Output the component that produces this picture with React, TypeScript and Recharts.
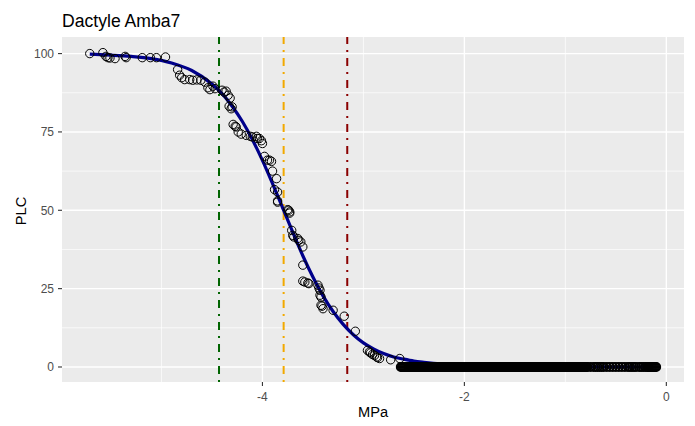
import React from "react";
import {
  ComposedChart,
  Scatter,
  Line,
  XAxis,
  YAxis,
  CartesianGrid,
  ReferenceLine,
} from "recharts";

// Observed PLC points on the transition (MPa, PLC)
const obsX = [
  -5.71, -5.58, -5.55, -5.53, -5.51, -5.46, -5.36, -5.35, -5.19, -5.11, -5.05, -4.96,
  -4.84, -4.82, -4.8, -4.77, -4.72, -4.69, -4.65, -4.61, -4.57, -4.54, -4.52, -4.49,
  -4.47, -4.4, -4.38, -4.36, -4.34, -4.32, -4.33, -4.31, -4.3,
  -4.29, -4.27, -4.26, -4.24, -4.21, -4.16, -4.12, -4.1, -4.06, -4.05, -4.03, -4.01, -4.0,
  -3.98, -3.95, -3.93, -3.91, -3.9, -3.86, -3.88, -3.85, -3.85, -3.85,
  -3.75, -3.74, -3.73, -3.73,
  -3.71, -3.7, -3.69, -3.65, -3.64, -3.62, -3.6,
  -3.6, -3.6, -3.58, -3.55, -3.54, -3.45, -3.44, -3.43, -3.43, -3.42, -3.42, -3.41, -3.4,
  -3.3, -3.19, -3.08,
  -2.96, -2.94, -2.93, -2.91, -2.89, -2.87, -2.86, -2.84, -2.73, -2.64,
];
const obsY = [
  100.0, 100.3, 99.1, 98.7, 98.6, 98.4, 99.1, 98.7, 98.7, 98.7, 98.7, 98.9,
  94.9, 93.1, 92.3, 91.7, 91.7, 91.5, 91.6, 91.5, 90.9, 89.1, 88.5, 89.6,
  88.8, 88.3, 87.7, 88.0, 86.7, 85.8, 83.2, 82.4, 83.0,
  77.4, 76.8, 76.6, 75.0, 74.3, 73.9, 73.6, 73.4, 73.6, 72.9, 72.9, 72.2, 71.3,
  67.2, 66.0, 66.0, 65.6, 62.5, 60.1, 56.6, 55.8, 53.0, 52.6,
  50.2, 50.0, 49.5, 49.1,
  43.6, 42.0, 41.5, 41.0, 40.4, 39.9, 38.3,
  32.5, 27.4, 27.1, 26.8, 26.6, 26.1, 25.2, 24.5, 22.9, 22.3, 19.7, 19.4, 18.6,
  18.1, 16.2, 11.4,
  5.3, 4.8, 4.5, 4.0, 3.7, 3.2, 3.0, 2.7, 2.3, 2.7,
];

// Points at PLC = 0 (dense band)
const zeroX = [
  -2.63, -2.62, -2.61, -2.6, -2.59, -2.58, -2.57, -2.56, -2.55, -2.54,
  -2.53, -2.52, -2.51, -2.5, -2.49, -2.48, -2.47, -2.46, -2.45, -2.44,
  -2.43, -2.42, -2.41, -2.4, -2.39, -2.38, -2.37, -2.36, -2.35, -2.34,
  -2.33, -2.32, -2.31, -2.3, -2.29, -2.28, -2.27, -2.26, -2.25, -2.24,
  -2.23, -2.22, -2.21, -2.2, -2.19, -2.18, -2.17, -2.16, -2.15, -2.14,
  -2.13, -2.12, -2.11, -2.1, -2.09, -2.08, -2.07, -2.06, -2.05, -2.04,
  -2.03, -2.02, -2.01, -2.0, -1.99, -1.98, -1.97, -1.96, -1.95, -1.94,
  -1.93, -1.92, -1.91, -1.9, -1.89, -1.88, -1.87, -1.86, -1.85, -1.84,
  -1.83, -1.82, -1.81, -1.8, -1.79, -1.78, -1.77, -1.76, -1.75, -1.74,
  -1.73, -1.72, -1.71, -1.7, -1.69, -1.68, -1.67, -1.66, -1.65, -1.64,
  -1.63, -1.62, -1.61, -1.6, -1.59, -1.58, -1.57, -1.56, -1.55, -1.54,
  -1.53, -1.52, -1.51, -1.5, -1.49, -1.48, -1.47, -1.46, -1.45, -1.44,
  -1.43, -1.42, -1.41, -1.4, -1.39, -1.38, -1.37, -1.36, -1.35, -1.34,
  -1.33, -1.32, -1.31, -1.3, -1.29, -1.28, -1.27, -1.26, -1.25, -1.24,
  -1.23, -1.22, -1.21, -1.2, -1.19, -1.18, -1.17, -1.16, -1.15, -1.14,
  -1.13, -1.12, -1.11, -1.1, -1.09, -1.08, -1.07, -1.06, -1.05, -1.04,
  -1.03, -1.02, -1.01, -1.0, -0.99, -0.98, -0.97, -0.96, -0.95, -0.94,
  -0.93, -0.92, -0.91, -0.9, -0.89, -0.88, -0.87, -0.86, -0.85, -0.84,
  -0.83, -0.82, -0.81, -0.8, -0.79, -0.78, -0.75, -0.72, -0.7, -0.68,
  -0.66, -0.64, -0.62, -0.59, -0.56, -0.53, -0.5, -0.47, -0.44, -0.41,
  -0.38, -0.36, -0.34, -0.32, -0.3, -0.27, -0.25, -0.23, -0.21, -0.19,
  -0.18, -0.17, -0.16, -0.15, -0.14, -0.13, -0.12, -0.11, -0.1,
];

// Fitted curve
const curveX = [
  -5.71, -5.5, -5.3, -5.1, -4.9, -4.7, -4.5, -4.4, -4.3, -4.2, -4.1, -4.0,
  -3.9, -3.8, -3.7, -3.6, -3.5, -3.4, -3.3, -3.2, -3.1, -3.0, -2.9, -2.8,
  -2.7, -2.6, -2.5, -2.4, -2.2, -2.0, -1.5, -1.0, -0.1,
];
const curveY = [
  99.8, 99.5, 99.1, 98.4, 97.0, 94.6, 90.3, 87.2, 83.2, 78.4, 72.6, 65.9,
  58.5, 50.8, 43.0, 35.5, 28.7, 22.7, 17.7, 13.6, 10.3, 7.7, 5.8, 4.3,
  3.2, 2.5, 1.9, 1.5, 0.9, 0.5, 0.15, 0.05, 0.0,
];

// P12, P50, P88 (MPa)
const pLines = [-4.43, -3.79, -3.16];
const pColors = ["#006400", "#F2A900", "#8B0000"];

const xTicks = [-4, -2, 0];
const xMinor = [-5, -3, -1];
const yTicks = [0, 25, 50, 75, 100];
const yMinor = [12.5, 37.5, 62.5, 87.5];

const titleText = "Dactyle Amba7";
const xTitle = "MPa";
const yTitle = "PLC";

const obsData = obsX.map((x, i) => ({ x, y: obsY[i] }));
const zeroData = zeroX.map((x) => ({ x, y: 0 }));
const curveData = curveX.map((x, i) => ({ x, y: curveY[i] }));

const Ring = (p: any) => (
  <circle cx={p.cx} cy={p.cy} r={4.2} fill="none" stroke="#000" strokeWidth={1} />
);
const BandRing = (p: any) => (
  <circle cx={p.cx} cy={p.cy} r={4.1} fill="none" stroke="#000" strokeWidth={1.7} />
);

const FONT = "'Liberation Sans', Arial, sans-serif";

export default function App() {
  return (
    <div
      style={{
        position: "absolute",
        left: 0,
        top: 0,
        width: 695,
        height: 426,
        background: "#fff",
        fontFamily: FONT,
      }}
    >
      <ComposedChart
        width={695}
        height={426}
        margin={{ top: 37, right: 11, left: 0, bottom: 0 }}
      >
        <CartesianGrid
          fill="#EBEBEB"
          stroke="#FFFFFF"
          strokeWidth={0.7}
          verticalValues={xMinor}
          horizontalValues={yMinor}
        />
        <CartesianGrid
          fill="none"
          stroke="#FFFFFF"
          strokeWidth={1.4}
          verticalValues={xTicks}
          horizontalValues={yTicks}
        />
        <XAxis
          type="number"
          dataKey="x"
          domain={[-5.985, 0.175]}
          ticks={xTicks}
          interval={0}
          allowDataOverflow
          height={44}
          axisLine={false}
          tickSize={4}
          tickMargin={6}
          tickLine={{ stroke: "#333333", strokeWidth: 1.1 }}
          tick={{ fill: "#4D4D4D", fontSize: 12, fontFamily: FONT }}
        />
        <YAxis
          type="number"
          dataKey="y"
          domain={[-4.79, 105.29]}
          ticks={yTicks}
          interval={0}
          allowDataOverflow
          width={62}
          axisLine={false}
          tickSize={4}
          tickMargin={4}
          tickLine={{ stroke: "#333333", strokeWidth: 1.1 }}
          tick={{ fill: "#4D4D4D", fontSize: 12, fontFamily: FONT }}
        />
        {pLines.map((v, i) => (
          <ReferenceLine
            key={i}
            x={v}
            stroke={pColors[i]}
            strokeWidth={2}
            strokeDasharray="2 6 8 6"
          />
        ))}
        <Line
          data={curveData}
          dataKey="y"
          type="monotone"
          stroke="#00008B"
          strokeWidth={3.2}
          dot={false}
          activeDot={false}
          isAnimationActive={false}
        />
        <Scatter data={obsData} dataKey="y" shape={Ring} isAnimationActive={false} />
        <Scatter data={zeroData} dataKey="y" shape={BandRing} isAnimationActive={false} />
      </ComposedChart>
      <div
        style={{
          position: "absolute",
          left: 62,
          top: 13,
          fontSize: 17.6,
          lineHeight: "17.6px",
          color: "#000",
          whiteSpace: "nowrap",
        }}
      >
        {titleText}
      </div>
      <div
        style={{
          position: "absolute",
          left: 373,
          top: 412,
          transform: "translate(-50%, -50%)",
          fontSize: 14.67,
          lineHeight: "14.67px",
          color: "#000",
          whiteSpace: "nowrap",
        }}
      >
        {xTitle}
      </div>
      <div
        style={{
          position: "absolute",
          left: 21,
          top: 211,
          transform: "translate(-50%, -50%) rotate(-90deg)",
          fontSize: 14.67,
          lineHeight: "14.67px",
          color: "#000",
          whiteSpace: "nowrap",
        }}
      >
        {yTitle}
      </div>
    </div>
  );
}
